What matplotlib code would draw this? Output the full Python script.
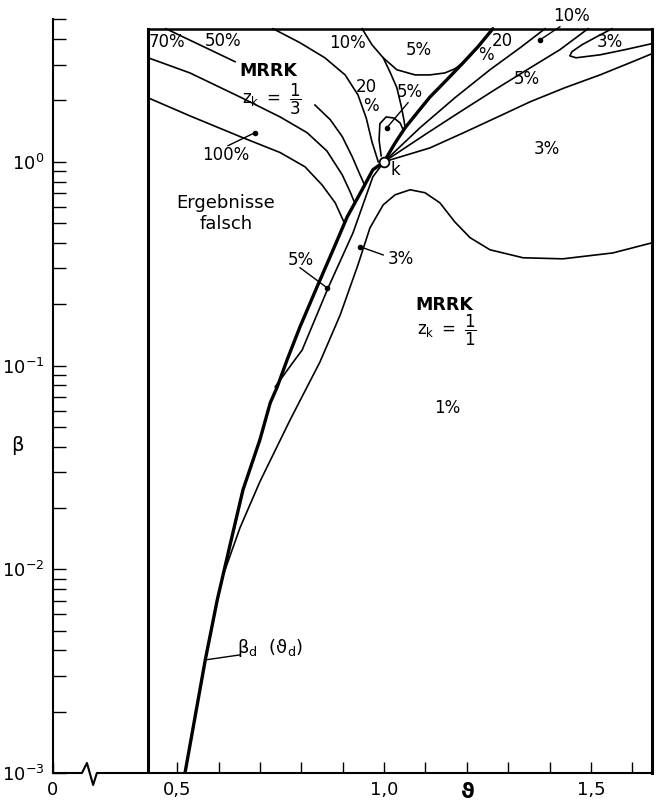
import numpy as np
import matplotlib
matplotlib.use('Agg')
import matplotlib.pyplot as plt
import matplotlib.transforms as mtransforms

plt.rcParams['font.family'] = ['DejaVu Sans']
plt.rcParams['mathtext.fontset'] = 'dejavusans'

# --- curves: theta values and beta values ---
# thick boundary line beta_d(theta_d), through k = (1, 1) up to the top of the box
bd_theta = [0.519, 0.568, 0.597, 0.628, 0.659, 0.700, 0.725, 0.742, 0.766, 0.797,
            0.838, 0.877, 0.911, 0.947, 0.973, 1.000, 1.027, 1.051, 1.082, 1.111,
            1.152, 1.191, 1.227, 1.263]
bd_beta = [0.001, 0.00359, 0.00708, 0.0132, 0.0245, 0.0432, 0.0656, 0.0786, 0.107, 0.155,
           0.243, 0.370, 0.537, 0.729, 0.914, 1.00, 1.24, 1.47, 1.76, 2.08,
           2.53, 3.06, 3.67, 4.50]

# MRRK z_k = 1/3 region (left of the thick line)
c100_theta = [0.430, 0.531, 0.652, 0.749, 0.809, 0.850, 0.882, 0.903]
c100_beta = [2.06, 1.68, 1.33, 1.11, 0.945, 0.771, 0.629, 0.507]

c70_theta = [0.430, 0.531, 0.652, 0.749, 0.814, 0.862, 0.899, 0.918, 0.930]
c70_beta = [3.24, 2.73, 2.08, 1.66, 1.39, 1.13, 0.863, 0.713, 0.622]

c50_theta = [0.473, 0.519, 0.640, np.nan, 0.833, 0.870, 0.899, 0.923, 0.942, 0.954]
c50_beta = [4.50, 4.06, 3.10, np.nan, 1.90, 1.61, 1.33, 1.06, 0.863, 0.762]

c20_theta = [0.732, 0.797, 0.857, 0.906, 0.937, 0.957, 0.971, 0.986]
c20_beta = [4.50, 3.84, 3.24, 2.67, 2.13, 1.64, 1.25, 1.00]

u_theta = [0.947, 0.971, 0.998, 1.031, 1.075, 1.111, 1.147, 1.171, 1.191]
u_beta = [4.50, 3.75, 3.24, 2.83, 2.67, 2.67, 2.73, 2.86, 3.06]

r_theta = [0.998, 1.014, 1.031, 1.041, 1.048, 1.051]
r_beta = [3.24, 2.77, 2.31, 1.90, 1.61, 1.47]

loop_theta = [0.993, 0.988, 0.990, 1.005, 1.024, 1.039, 1.046]
loop_beta = [1.07, 1.28, 1.54, 1.66, 1.64, 1.55, 1.44]

# MRRK z_k = 1 region (right of the thick line)
a5_theta = [0.737, 0.785, 0.802, 0.865, 0.925, 0.973, 1.000]
a5_beta = [0.0786, 0.107, 0.119, 0.241, 0.448, 0.844, 1.00]

b3_theta = [0.609, 0.652, 0.700, 0.773, 0.845, 0.894, 0.937, 0.966, 0.998, 1.027,
            1.063, 1.099, 1.135, 1.171, 1.208, 1.256, 1.336, 1.432, 1.553, 1.647]
b3_beta = [0.00908, 0.0160, 0.0269, 0.0541, 0.104, 0.177, 0.312, 0.474, 0.615, 0.689,
           0.729, 0.705, 0.629, 0.507, 0.424, 0.370, 0.338, 0.334, 0.357, 0.400]

f2_theta = [1.000, 1.087, 1.171, 1.256, 1.329, 1.389]
f2_beta = [1.00, 1.47, 2.06, 2.83, 3.63, 4.50]

f3_theta = [1.000, 1.099, 1.184, 1.268, 1.353, 1.425, 1.493]
f3_beta = [1.00, 1.36, 1.76, 2.26, 2.89, 3.55, 4.50]

tongue_theta = [1.551, 1.514, 1.478, 1.454, 1.449, 1.464, 1.522, 1.582, 1.647]
tongue_beta = [4.50, 4.11, 3.75, 3.47, 3.31, 3.24, 3.35, 3.55, 3.80]

flow_theta = [1.000, 1.111, 1.196, 1.280, 1.353, 1.437, 1.522, 1.594, 1.647]
flow_beta = [1.00, 1.17, 1.40, 1.68, 1.97, 2.31, 2.67, 3.06, 3.39]

thin_curves = [
    (c100_theta, c100_beta), (c70_theta, c70_beta), (c50_theta, c50_beta),
    (c20_theta, c20_beta), (u_theta, u_beta), (r_theta, r_beta),
    (loop_theta, loop_beta), (a5_theta, a5_beta), (b3_theta, b3_beta),
    (f2_theta, f2_beta), (f3_theta, f3_beta), (tongue_theta, tongue_beta),
    (flow_theta, flow_beta),
]

# leader lines: (label end, dot end)
pointers = [
    ((0.623, 1.20), (0.688, 1.39)),     # 100 %
    ((1.058, 1.95), (1.007, 1.47)),     # 5 % (loop)
    ((1.425, 4.60), (1.377, 3.97)),     # 10 % (top)
    ((0.797, 0.302), (0.862, 0.241)),   # 5 % lower
    ((0.998, 0.349), (0.942, 0.383)),   # 3 % lower
]
bd_pointer = ((0.652, 0.00380), (0.568, 0.00359))

labels = [
    ("70%", 0.476, 3.88), ("50%", 0.611, 3.92), ("100%", 0.618, 1.08),
    ("10%", 0.911, 3.84), ("5%", 1.085, 3.55), ("20", 0.957, 2.33), ("%", 0.969, 1.88),
    ("5%", 1.063, 2.21), ("%", 1.246, 3.35), ("20", 1.285, 3.93),
    ("10%", 1.452, 5.21), ("3%", 1.546, 3.88), ("5%", 1.345, 2.56),
    ("3%", 1.394, 1.16), ("5%", 0.800, 0.330), ("3%", 1.041, 0.334),
    ("1%", 1.152, 0.0620),
]

box_left, box_right, box_top = 0.43, 1.647, 4.5

fig = plt.figure(figsize=(6.59, 8.02), dpi=100)
ax = fig.add_axes([53 / 659, 29 / 802, 600 / 659, 753.6 / 802])
ax.set_yscale('log')
ax.set_xlim(0.2, 1.65)
ax.set_ylim(1e-3, 5)

for th, be in thin_curves:
    ax.plot(th, be, color='black', lw=1.2, solid_joinstyle='round')
ax.plot(bd_theta, bd_beta, color='black', lw=2.4, solid_capstyle='round',
        solid_joinstyle='round')

for (x0, y0), (x1, y1) in pointers:
    ax.plot([x0, x1], [y0, y1], color='black', lw=1.0, clip_on=False)
    ax.plot(x1, y1, 'o', color='black', ms=3)
(x0, y0), (x1, y1) = bd_pointer
ax.plot([x0, x1], [y0, y1], color='black', lw=1.0)

# critical point k
ax.plot(1.0, 1.0, 'o', ms=7, mfc='white', mec='black', mew=1.3, zorder=5)
ax.text(1.027, 0.914, "k", fontsize=12, ha='center', va='center')

for txt, x, y in labels:
    ax.text(x, y, txt, fontsize=12, ha='center', va='center')

ax.text(0.720, 2.80, "MRRK", fontsize=12.5, fontweight='bold', ha='center', va='center')
ax.text(0.729, 2.02, r"$\mathregular{z_k\ =\ \dfrac{1}{3}}$", fontsize=12, ha='center',
        va='center')
ax.text(1.145, 0.199, "MRRK", fontsize=12.5, fontweight='bold', ha='center', va='center')
ax.text(1.152, 0.148, r"$\mathregular{z_k\ =\ \dfrac{1}{1}}$", fontsize=12, ha='center',
        va='center')
ax.text(0.618, 0.556, "Ergebnisse\nfalsch", fontsize=13, ha='center', va='center',
        linespacing=1.25)
ax.text(0.725, 0.00411, r"$\mathregular{\beta_d\ \ (\vartheta_d)}$", fontsize=13,
        ha='center', va='center')

# frame of the diagram
ax.plot([box_left, box_left], [1e-3, box_top], color='black', lw=2.2)
ax.plot([box_left, box_right], [box_top, box_top], color='black', lw=1.8)
ax.plot([box_right, box_right], [1e-3, box_top], color='black', lw=2.2, clip_on=False)

for side in ['top', 'right', 'bottom']:
    ax.spines[side].set_visible(False)
ax.spines['left'].set_linewidth(1.5)

# bottom axis with break
trans = mtransforms.blended_transform_factory(ax.transData, ax.transAxes)
ax.plot([0.2, 0.270, 0.282, 0.297, 0.306, 1.65], [0, 0, 0.0133, -0.0159, 0, 0],
        color='black', lw=1.5, transform=trans, clip_on=False)

ax.set_xticks([0.2, 0.5, 1.0, 1.5])
ax.set_xticklabels(['0', '0,5', '1,0', '1,5'])
ax.set_xticks([0.6, 0.7, 0.8, 0.9, 1.1, 1.2, 1.3, 1.4, 1.6], minor=True)
ax.tick_params(axis='x', which='both', direction='in', length=8, width=1.0,
               labelsize=13, pad=6)
ax.tick_params(axis='y', which='both', direction='in', length=9, width=1.0,
               labelsize=13, pad=6)

ax.set_xlabel("ϑ", fontsize=15, fontweight='bold')
ax.xaxis.set_label_coords(0.692, -0.012)
ax.set_ylabel("β", fontsize=14, rotation=0, va='center', ha='center')
ax.yaxis.set_label_coords(-0.06, 0.435)

fig.savefig('out.png', dpi=100)
